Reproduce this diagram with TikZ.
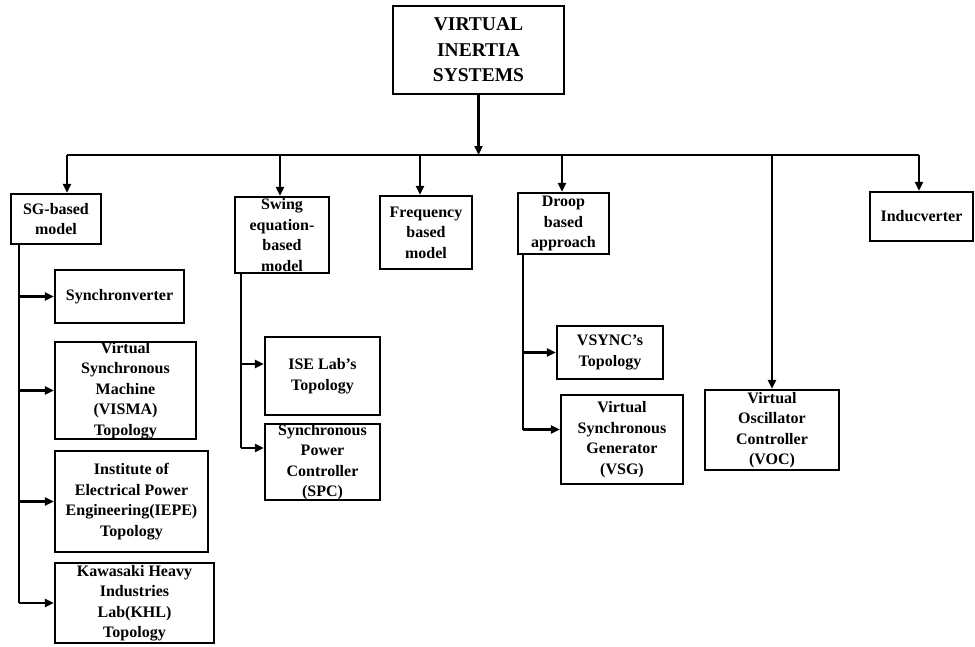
\documentclass[tikz,border=0pt]{standalone}
\usepackage{fontspec}
\setmainfont{Liberation Serif}
\usepackage{tikz}
\usetikzlibrary{arrows.meta, positioning, calc}
\tikzset{
  box/.style={rectangle, draw=black, line width=2.2pt, align=center, inner sep=0pt,
    font=\fontsize{16}{20.5}\selectfont\bfseries},
  topbox/.style={box, font=\fontsize{19.5}{25.5}\selectfont\bfseries},
  wire/.style={line width=2.2pt},
  arr/.style={-{Triangle[length=9pt,width=8pt]}, line width=2.2pt},
}

\begin{document}
\begin{tikzpicture}[x=1pt, y=-1pt]
\useasboundingbox (0,0) rectangle (975,646);
% top and first level
\node[topbox, minimum width=171pt, minimum height=88pt] (root) at (478.5,50) {VIRTUAL\\INERTIA\\SYSTEMS};
\node[box, minimum width=90pt,  minimum height=50pt] (sg)    at (56,219)    {SG-based\\model};
\node[box, minimum width=94pt,  minimum height=76pt] (swing) at (282,235)   {Swing\\equation-\\based\\model};
\node[box, minimum width=92pt,  minimum height=73pt] (freq)  at (426,232.5) {Frequency\\based\\model};
\node[box, minimum width=91pt,  minimum height=61pt] (droop) at (563.5,223.5) {Droop\\based\\approach};
\node[box, minimum width=134pt, minimum height=80pt] (voc)   at (772,430)   {Virtual\\Oscillator\\Controller\\(VOC)};
\node[box, minimum width=103pt, minimum height=49pt] (ind)   at (921.5,216.5) {Inducverter};
% SG-based children
\node[box, minimum width=129pt, minimum height=53pt]  (syncv) at (119.5,296.5) {Synchronverter};
\node[box, minimum width=141pt, minimum height=95pt]  (visma) at (125.5,390.5) {Virtual\\Synchronous\\Machine\\(VISMA)\\Topology};
\node[box, minimum width=153pt, minimum height=101pt] (iepe)  at (131.5,501.5) {Institute of\\Electrical Power\\Engineering(IEPE)\\Topology};
\node[box, minimum width=159pt, minimum height=80pt]  (khl)   at (134.5,603)   {Kawasaki Heavy\\Industries\\Lab(KHL)\\Topology};
% swing equation children
\node[box, minimum width=115pt, minimum height=78pt] (ise) at (322.5,376) {ISE Lab's\\Topology};
\node[box, minimum width=115pt, minimum height=76pt] (spc) at (322.5,462) {Synchronous\\Power\\Controller\\(SPC)};
% droop children
\node[box, minimum width=106pt, minimum height=53pt] (vsync) at (610,352.5) {VSYNC's\\Topology};
\node[box, minimum width=122pt, minimum height=89pt] (vsg)   at (622,439.5) {Virtual\\Synchronous\\Generator\\(VSG)};

% bus
\coordinate (b1) at (67,155);
\coordinate (b2) at (280,155);
\coordinate (b3) at (420,155);
\coordinate (b4) at (562,155);
\coordinate (b5) at (772,155);
\coordinate (b6) at (919,155);
\draw[arr] (root.south) -- (root.south |- b1);
\draw[wire] (b1) -- (b6);
\draw[arr] (b1) -- (b1 |- sg.north);
\draw[arr] (b2) -- (b2 |- swing.north);
\draw[arr] (b3) -- (b3 |- freq.north);
\draw[arr] (b4) -- (b4 |- droop.north);
\draw[arr] (b5) -- (voc.north);
\draw[arr] (b6) -- (b6 |- ind.north);

% trunks
\coordinate (sgt) at ([xshift=9pt]sg.south west);
\draw[wire] (sgt) -- (sgt |- khl.west);
\draw[arr] (sgt |- syncv.west) -- (syncv.west);
\draw[arr] (sgt |- visma.west) -- (visma.west);
\draw[arr] (sgt |- iepe.west) -- (iepe.west);
\draw[arr] (sgt |- khl.west) -- (khl.west);

\coordinate (swt) at ([xshift=7pt]swing.south west);
\coordinate (isein) at ([yshift=12pt]ise.west);
\coordinate (spcin) at ([yshift=14pt]spc.west);
\draw[wire] (swt) -- (swt |- spcin);
\draw[arr] (swt |- isein) -- (isein);
\draw[arr] (swt |- spcin) -- (spcin);

\coordinate (drt) at ([xshift=6pt]droop.south west);
\coordinate (vsgin) at ([yshift=10pt]vsg.west);
\draw[wire] (drt) -- (drt |- vsgin);
\draw[arr] (drt |- vsync.west) -- (vsync.west);
\draw[arr] (drt |- vsgin) -- (vsgin);
\end{tikzpicture}
\end{document}
